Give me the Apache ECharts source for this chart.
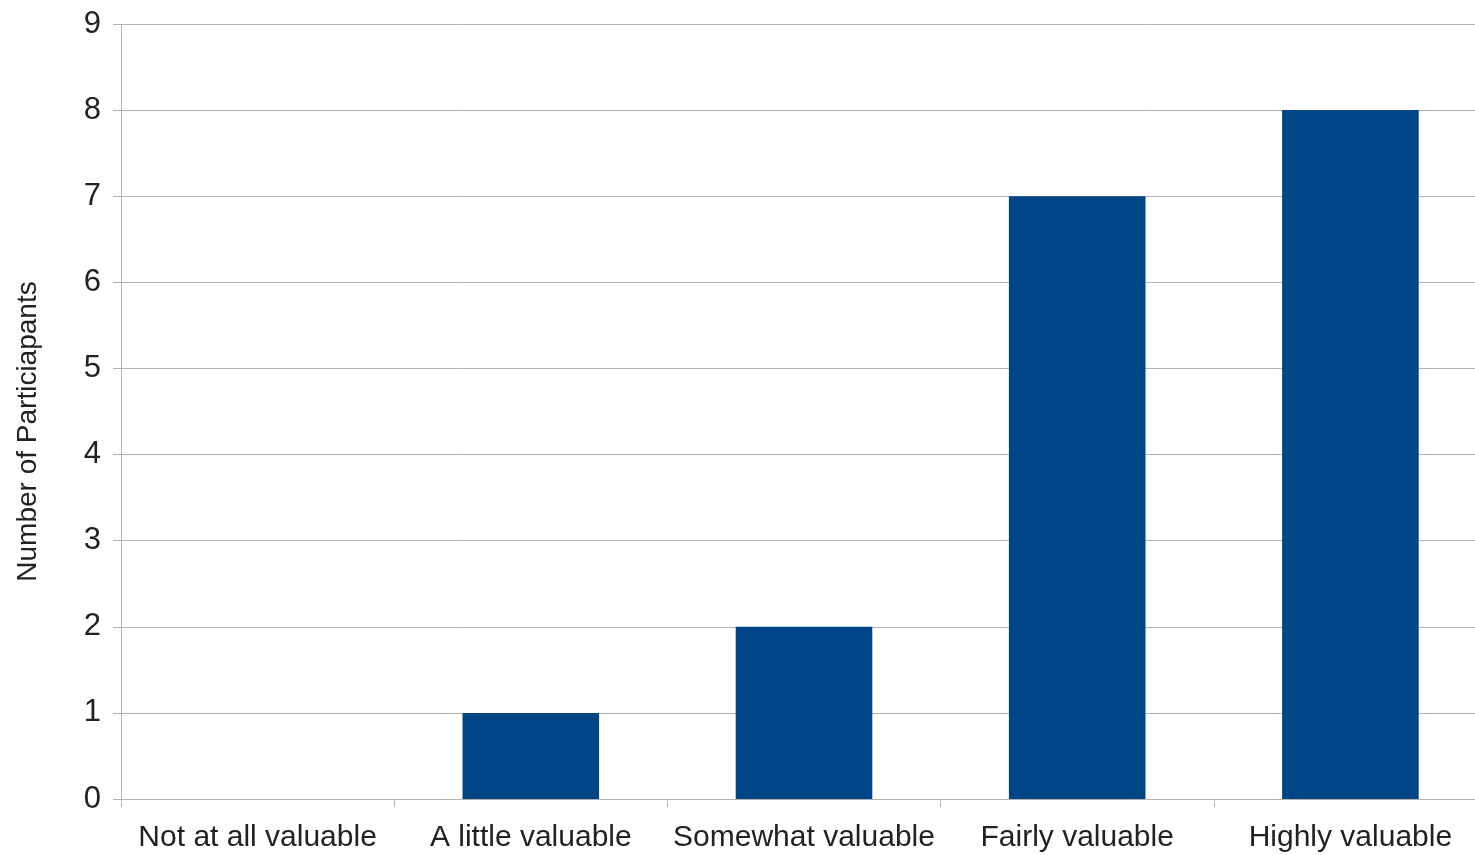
<html lang="en">
  <head>
    <meta charset="UTF-8" />
    <title>Number of Participants</title>
    <style>
      body { margin: 0; background: #fff; overflow: hidden; }
      #main { width: 1487px; height: 855px; }
    </style>
  </head>
  <body>
    <div id="main"></div>
    <script src="https://cdnjs.cloudflare.com/ajax/libs/echarts/6.0.0/echarts.min.js"></script>
    <script>
      let categories = ['Not at all valuable', 'A little valuable', 'Somewhat valuable', 'Fairly valuable', 'Highly valuable']
      let participants = [0, 1, 2, 7, 8]
      let yTicks = [0, 1, 2, 3, 4, 5, 6, 7, 8, 9]

      // chart is a bit wider than the window, the right end of the plot is cut off like in the original
      let myChart = echarts.init(document.getElementById('main'))
      let gray = '#b3b3b3'
      let option = {
        animation: false,
        textStyle: { fontFamily: 'Liberation Sans' },
        grid: { left: 121, top: 24, right: 0, bottom: 56, containLabel: false },
        xAxis: {
          type: 'category',
          data: categories,
          axisLine: { lineStyle: { color: gray, width: 1 } },
          axisTick: { show: true, length: 8, alignWithLabel: false, lineStyle: { color: gray } },
          axisLabel: { color: '#222', fontSize: 30, margin: 24, interval: 0, hideOverlap: false }
        },
        yAxis: {
          type: 'value',
          min: yTicks[0],
          max: yTicks[yTicks.length - 1],
          interval: 1,
          name: 'Number of Particiapants',
          nameLocation: 'middle',
          nameGap: 79,
          nameTextStyle: { color: '#222', fontSize: 28, padding: [0, 40, 0, 0] },
          axisLine: { show: true, lineStyle: { color: gray, width: 1 } },
          axisTick: { show: true, length: 8, lineStyle: { color: gray } },
          axisLabel: { color: '#222', fontSize: 31, margin: 20 },
          splitLine: { lineStyle: { color: gray, width: 1 } }
        },
        series: [
          {
            type: 'bar',
            data: participants,
            barWidth: '50%',
            itemStyle: { color: '#004586' }
          }
        ]
      }
      myChart.setOption(option)
    </script>
  </body>
</html>
